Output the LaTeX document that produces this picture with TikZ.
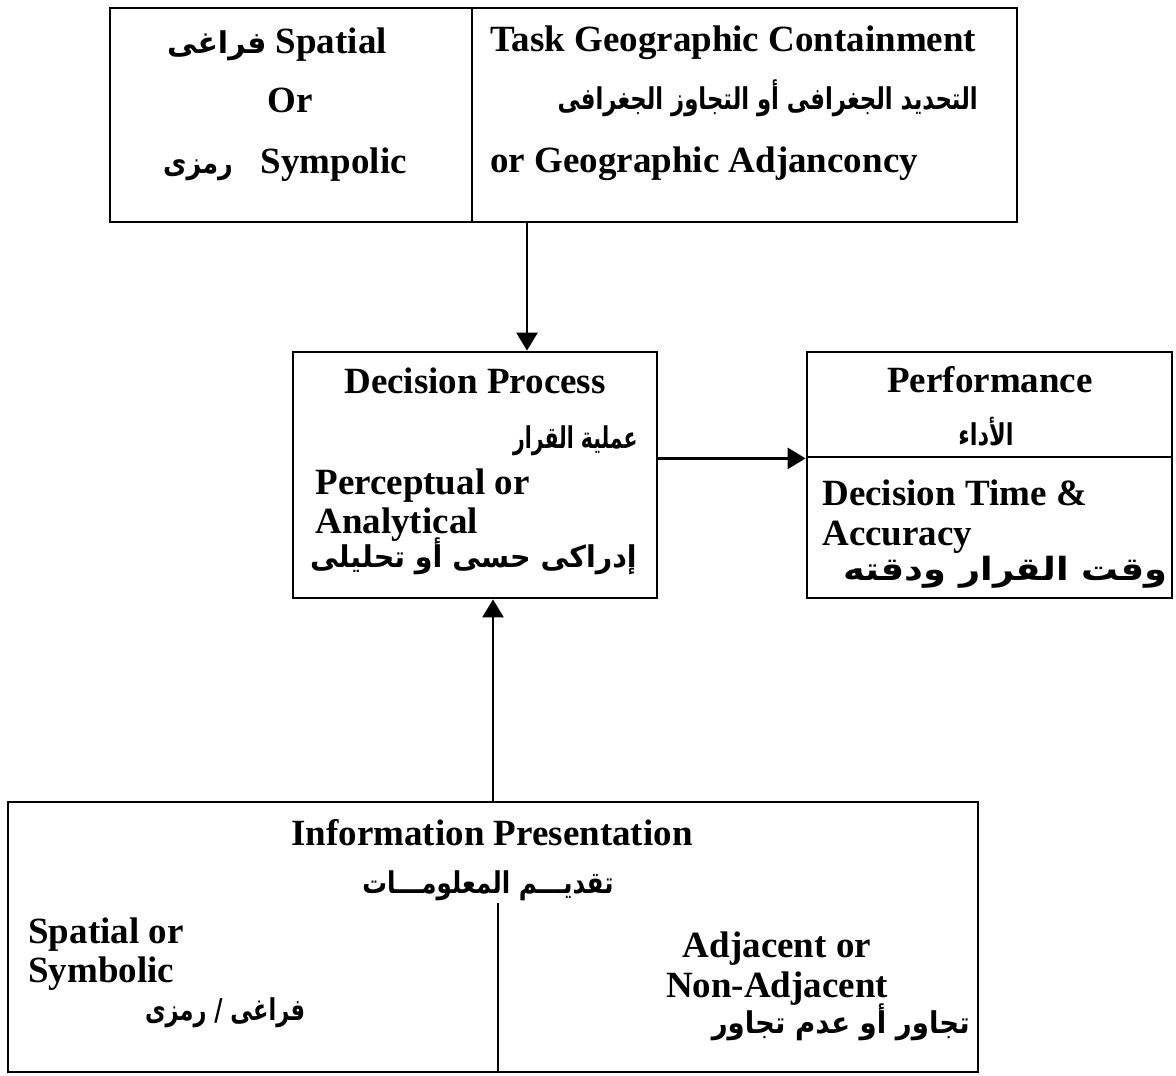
\documentclass[tikz,border=0pt]{standalone}
\usepackage{graphicx}
\usepackage{fontspec}
\setmainfont{Liberation Serif}
\newfontfamily\arabicfont[Script=Arabic]{DejaVu Sans}
\TeXXeTstate=1
\usetikzlibrary{arrows.meta}
% Arabic run: {size}{horizontal scale}{text between \beginR and \endR}
\newcommand{\artxt}[3]{{\arabicfont\bfseries\fontsize{#1}{#1}\selectfont\scalebox{#2}[1]{#3}}}
\begin{document}
\begin{tikzpicture}[x=0.5pt,y=-0.5pt,
  every node/.style={font=\bfseries\fontsize{18.5}{22}\selectfont, inner sep=0pt},
  box/.style={draw, line width=1.4pt, rectangle},
  arr/.style={line width=1.3pt, -{Triangle[length=9pt,width=10.5pt]}},
  sep/.style={line width=1.3pt}]
\useasboundingbox (0,0) rectangle (1176,1075);

% --- boxes ---
\node[box, minimum width=181pt, minimum height=107pt] (topL) at (291,115) {};
\node[box, minimum width=272.5pt, minimum height=107pt] (topR) at (744.5,115) {};
\node[box, minimum width=182pt, minimum height=123pt] (dp) at (475,475) {};
\node[box, minimum width=182.5pt, minimum height=52.5pt] (perfT) at (989.5,404.5) {};
\node[box, minimum width=182.5pt, minimum height=70.5pt] (perfB) at (989.5,527.5) {};
\node[box, minimum width=485pt, minimum height=135pt] (info) at (493,937) {};

% --- texts of the task box ---
\node[anchor=base] (t1) at (277,54) {\artxt{15}{1}{\beginR فراغى\endR} Spatial};
\node[anchor=base] (t2) at (290,113) {Or};
\node[anchor=base] (t3) at (285,174) {\artxt{15}{0.85}{\beginR رمزى\endR}\hspace{14pt}Sympolic};
\node[anchor=base west] (t4) at (490,52) {Task Geographic Containment};
\node[anchor=base east] (t5) at (978,110) {\artxt{15}{0.76}{\beginR التحديد الجغرافى أو التجاوز الجغرافى\endR}};
\node[anchor=base west] (t6) at (490,173) {or Geographic Adjanconcy};

% --- decision process ---
\node[anchor=base] (d1) at (475,393) {Decision Process};
\node[anchor=base east] (d2) at (638,448) {\artxt{15}{0.68}{\beginR عملية القرار\endR}};
\node[anchor=base west] (d3) at (315,494) {Perceptual or};
\node[anchor=base west] (d4) at (315,533) {Analytical};
\node[anchor=base east] (d5) at (637,567) {\artxt{15}{0.95}{\beginR إدراكى حسى أو تحليلى\endR}};

% --- performance ---
\node[anchor=base] (p1) at (990,392) {Performance};
\node[anchor=base] (p2) at (986,445) {\artxt{15}{0.75}{\beginR الأداء\endR}};
\node[anchor=base west] (p3) at (822,505) {Decision Time \&};
\node[anchor=base west] (p4) at (822,545) {Accuracy};
\node[anchor=base east] (p5) at (1168,580) {\artxt{16}{1.15}{\beginR وقت القرار ودقته\endR}};

% --- information presentation ---
\node[anchor=base] (i1) at (492,845) {Information Presentation};
\node[anchor=base] (i2) at (488,893) {\artxt{15}{0.82}{\beginR تقديـــم المعلومـــات\endR}};
\node[anchor=base west] (i3) at (28,943) {Spatial or};
\node[anchor=base west] (i4) at (28,982) {Symbolic};
\node[anchor=base] (i5) at (225,1020) {\artxt{15}{0.75}{\beginR فراغى / رمزى\endR}};
\node[anchor=base] (i6) at (777,957) {Adjacent or};
\node[anchor=base] (i7) at (777,997) {Non-Adjacent};
\node[anchor=base east] (i8) at (970,1033) {\artxt{15}{0.92}{\beginR تجاور أو عدم تجاور\endR}};

% divider inside the information box
\coordinate (divtop) at (498,903);
\draw[sep] (divtop) -- (divtop |- info.south);

% --- connectors ---
\coordinate (taskout) at (527,222);
\draw[arr] (taskout) -- (taskout |- dp.north);
\draw[arr] (dp.east |- perfT.south) -- (perfT.south west);
\draw[arr] (info.north) -- (info.north |- dp.south);
\end{tikzpicture}
\end{document}
